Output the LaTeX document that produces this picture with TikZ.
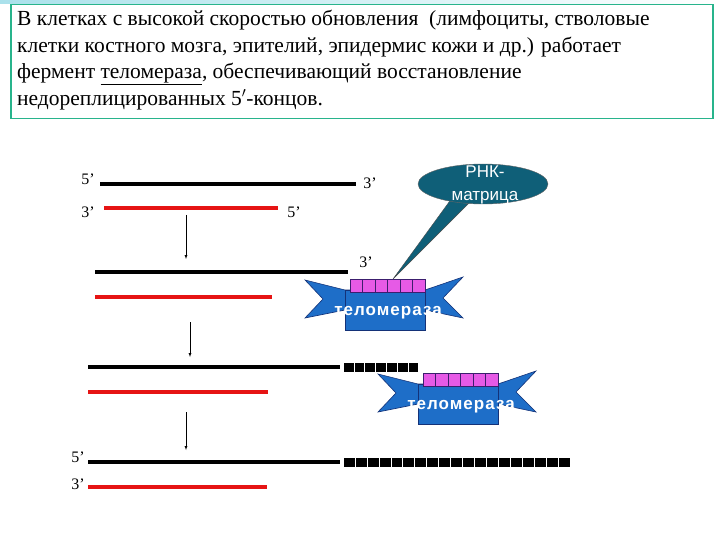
\documentclass[tikz,border=0pt]{standalone}
\usepackage{fontspec}
\usetikzlibrary{shapes.geometric}
\setmainfont{Liberation Serif}
\newfontfamily\sansf{Liberation Sans}
\newfontfamily\sansls[LetterSpace=6]{Liberation Sans}
\definecolor{redl}{RGB}{230,20,20}
\definecolor{pink}{RGB}{230,90,230}
\definecolor{pinkd}{RGB}{60,30,110}
\definecolor{ribc}{RGB}{30,110,200}
\definecolor{ribd}{RGB}{20,50,120}
\definecolor{teal}{RGB}{15,95,120}
\definecolor{boxc}{RGB}{40,180,140}
\definecolor{topc}{RGB}{170,225,235}
\begin{document}
\begin{tikzpicture}[x=1bp,y=-1bp,
  blk/.style={line width=4bp,black},
  red/.style={line width=4bp,color=redl},
  lab/.style={font=\fontsize{16bp}{16bp}\selectfont,inner sep=0pt},
  arr/.style={-latex,thin},
  sq/.style={fill=black,draw=white,line width=0.6bp},
  pk/.style={fill=pink,draw=pinkd,line width=0.6bp},
  rib/.style={fill=ribc,draw=ribd,line width=0.6bp},
  telo/.pic={
    \path[rib] (305,280)--(345,290)--(425,290)--(463,277)--(443,298)--(463,318)--(425,310)--(345,310)--(305,318)--(323,299)--cycle;
    \path[rib] (345,290) rectangle (425,330);
    \foreach \i in {0,...,5}{\path[pk] (350+12.5*\i,279) rectangle (362.5+12.5*\i,292);}
    \node[font=\sansls\bfseries\fontsize{17bp}{17bp}\selectfont,text=white,inner sep=0pt] at (388,313) {теломераза};
  }]
\useasboundingbox (0,0) rectangle (720,540);
\fill[white] (0,0) rectangle (720,540);
\shade[left color=topc,right color=white] (0,0) rectangle (720,4);
% text box
\node[draw=boxc,line width=1.5bp,minimum width=702bp,minimum height=114bp,anchor=north west,inner sep=0pt] (box) at (10,4) {};
\node[anchor=north west,align=left,inner sep=0pt,font=\fontsize{21.5bp}{26.5bp}\selectfont] (txt) at (17,10) {В клетках с высокой скоростью обновления \ (лимфоциты, стволовые\\клетки костного мозга, эпителий, эпидермис кожи и др.) работает\\фермент \underline{теломераза}, обеспечивающий восстановление\\недореплицированных 5$'$-концов.};
% strands 1
\coordinate (a1) at (100,184); \coordinate (b1) at (356,184);
\draw[blk] (a1)--(b1);
\coordinate (c1) at (104,208); \coordinate (d1) at (278,208);
\draw[red] (c1)--(d1);
\node[lab] (l1) at (88,179) {5’};
\node[lab] (l2) at (370,183) {3’};
\node[lab] (l3) at (88,212) {3’};
\node[lab] (l4) at (294,212) {5’};
\coordinate (ar1a) at (186,215); \coordinate (ar1b) at (186,259);
\draw[arr] (ar1a)--(ar1b);
% strands 2
\coordinate (a2) at (95,272); \coordinate (b2) at (348,272);
\draw[blk] (a2)--(b2);
\coordinate (c2) at (95,297); \coordinate (d2) at (272,297);
\draw[red] (c2)--(d2);
\node[lab] (l5) at (366,262) {3’};
\pic at (0,0) {telo};
% callout
\filldraw[fill=teal,draw=black!70] (452,198)--(393,279)--(470,202)--cycle;
\node[ellipse,fill=teal,draw=black!60,minimum width=130bp,minimum height=40bp,inner sep=0pt] (rnk) at (483,184) {};
\node[font=\sansf\fontsize{17bp}{23bp}\selectfont,text=white,align=center,inner sep=0pt] (rnkt) at (485,185) {РНК-\\матрица};
\coordinate (ar2a) at (190,322); \coordinate (ar2b) at (190,357);
\draw[arr] (ar2a)--(ar2b);
% strands 3
\coordinate (a3) at (88,367); \coordinate (b3) at (340,367);
\draw[blk] (a3)--(b3);
\foreach \i in {0,...,6}{\path[sq] (343+10.8*\i,362) rectangle (353.8+10.8*\i,372);}
\coordinate (c3) at (88,392); \coordinate (d3) at (268,392);
\draw[red] (c3)--(d3);
\pic at (73,94) {telo};
\coordinate (ar3a) at (186,412); \coordinate (ar3b) at (186,450);
\draw[arr] (ar3a)--(ar3b);
% strands 4
\coordinate (a4) at (88,462); \coordinate (b4) at (340,462);
\draw[blk] (a4)--(b4);
\foreach \i in {0,...,18}{\path[sq] (343+11.95*\i,457) rectangle (354.95+11.95*\i,467);}
\coordinate (c4) at (88,487); \coordinate (d4) at (267,487);
\draw[red] (c4)--(d4);
\node[lab] (l6) at (78,457) {5’};
\node[lab] (l7) at (78,484) {3’};
\end{tikzpicture}
\end{document}
